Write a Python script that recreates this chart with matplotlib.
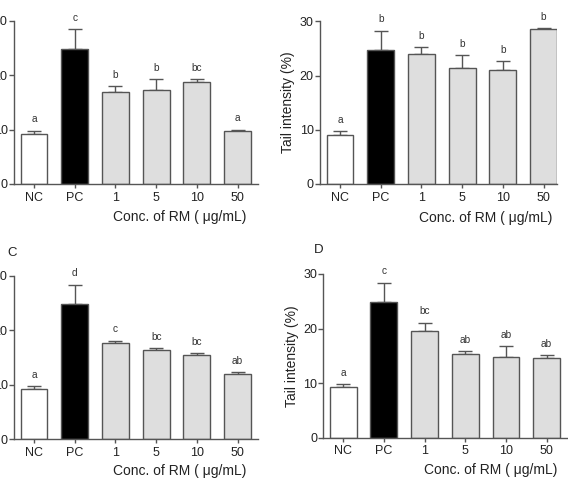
import matplotlib
matplotlib.use("Agg")
import matplotlib.pyplot as plt
import numpy as np

plt.rcParams['font.family'] = ['Liberation Sans', 'DejaVu Sans']

categories = ["NC", "PC", "1", "5", "10", "50"]

# Panel A
a_vals = [9.2, 24.8, 16.9, 17.2, 18.7, 9.7]
a_err = [0.6, 3.6, 1.1, 2.0, 0.5, 0.3]
a_letters = ["a", "c", "b", "b", "bc", "a"]
# Panel B
b_vals = [9.1, 24.8, 24.0, 21.3, 21.1, 28.6]
b_err = [0.6, 3.5, 1.3, 2.4, 1.5, 0.1]
b_letters = ["a", "b", "b", "b", "b", "b"]
# Panel C
c_vals = [9.2, 24.8, 17.7, 16.3, 15.5, 11.95]
c_err = [0.6, 3.6, 0.4, 0.4, 0.3, 0.3]
c_letters = ["a", "d", "c", "bc", "bc", "ab"]
# Panel D
d_vals = [9.3, 24.9, 19.5, 15.3, 14.8, 14.6]
d_err = [0.5, 3.5, 1.6, 0.6, 2.0, 0.5]
d_letters = ["a", "c", "bc", "ab", "ab", "ab"]

yticks = [0, 10, 20, 30]
xlabel = "Conc. of RM ( \u03bcg/mL)"
ylabel = "Tail intensity (%)"

W, H = 568, 479
fig = plt.figure(figsize=(W / 100, H / 100), dpi=100)

EDGE = "#555555"
fills = ["white", "black", "#dedede", "#dedede", "#dedede", "#dedede"]

def make_ax(left, right, top, bottom, xmax):
    ax = fig.add_axes([left / W, 1 - bottom / H, (right - left) / W, (bottom - top) / H])
    ax.set_xlim(-0.49, xmax)
    ax.set_ylim(0, 30)
    return ax

panels = [
    (14, 258, 20.7, 184, 5.5, a_vals, a_err, a_letters, 179.5, 217),
    (320, 557, 21.3, 184, 5.33, b_vals, b_err, b_letters, 486, 218),
    (14, 258, 276, 439, 5.5, c_vals, c_err, c_letters, 179.5, 470.5),
    (323.3, 567, 274, 437.7, 5.5, d_vals, d_err, d_letters, 490.5, 470),
]

for i, (l, r, t, b, xmax, vals, err, letters, xlx, xly) in enumerate(panels):
    ax = make_ax(l, r, t, b, xmax)
    x = np.arange(len(categories))
    ax.bar(x, vals, width=0.66, color=fills, edgecolor=EDGE, linewidth=1.0, zorder=2)
    ax.errorbar(x, vals, yerr=[np.zeros(len(err)), err], fmt="none", ecolor=EDGE,
                elinewidth=1.0, capsize=5, capthick=1.0, zorder=1)
    for xi, v, e, lab in zip(x, vals, err, letters):
        ax.annotate(lab, (xi, v + e), xytext=(0, 4.5), textcoords="offset points",
                    ha="center", va="bottom", fontsize=7.3, color="#333333")
    for s in ["top", "right"]:
        ax.spines[s].set_visible(False)
    for s in ["left", "bottom"]:
        ax.spines[s].set_color(EDGE)
        ax.spines[s].set_linewidth(1.0)
    ax.set_xticks(x)
    ax.set_xticklabels(categories)
    ax.set_yticks(yticks)
    ax.tick_params(axis="both", colors=EDGE, labelcolor="#222222", labelsize=9,
                   length=3.5, width=1.0)
    ax.tick_params(axis="y", pad=1)
    ax.tick_params(axis="x", pad=2.5, length=3)
    fig.text(xlx / W, 1 - xly / H, xlabel, ha="center", va="center", fontsize=10, color="#222222")
    if i == 1:
        fig.text(288 / W, 1 - 102 / H, ylabel, rotation=90, ha="center", va="center",
                 fontsize=10, color="#222222")
    if i == 3:
        fig.text(292 / W, 1 - 356 / H, ylabel, rotation=90, ha="center", va="center",
                 fontsize=10, color="#222222")

fig.text(12 / W, 1 - 253 / H, "C", ha="center", va="center", fontsize=9.5, color="#222222")
fig.text(319 / W, 1 - 250 / H, "D", ha="center", va="center", fontsize=9.5, color="#222222")

fig.savefig("out.png", dpi=100)
